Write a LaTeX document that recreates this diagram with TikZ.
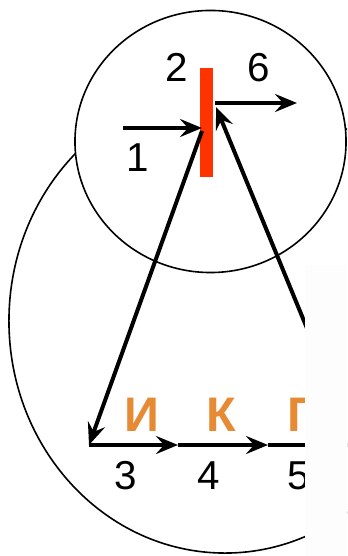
\documentclass[tikz,border=0pt]{standalone}
\usepackage{fontspec}
\setmainfont{Liberation Sans}
\usetikzlibrary{arrows.meta,shapes.geometric}
\definecolor{barred}{HTML}{FF3300}
\definecolor{lettor}{HTML}{E68A33}
\definecolor{coverc}{HTML}{FDFDFD}
\begin{document}
\begin{tikzpicture}[x=0.025cm,y=-0.025cm,
  ring/.style={draw=black,line width=0.04cm,ellipse,inner sep=0pt},
  flow/.style={line width=0.1cm,-{Stealth[length=0.55cm,width=0.45cm,inset=0.2cm]}},
  link/.style={line width=0.1cm},
  num/.style={inner sep=0pt,font=\fontsize{28.7}{30}\selectfont},
  letter/.style={inner sep=0pt,text=lettor,font=\fontsize{34.5}{36}\selectfont\bfseries},
  barbox/.style={fill=barred,inner sep=0pt,minimum width=0.325cm,minimum height=2.725cm}]
\useasboundingbox (0,0) rectangle (347,556);
\clip (0,0) rectangle (347,556);
\node[ring,minimum width=10.8cm,minimum height=11.6cm] (big) at (225,321) {};
\node[ring,fill=white,minimum width=6.775cm,minimum height=6.55cm] (top) at (210.5,141.5) {};
\node[barbox] (bar) at (206.5,122.5) {};
% points
\coordinate (s1) at (123,128);
\coordinate (e1) at (202,128);
\coordinate (o3) at (202,131);
\coordinate (c3) at (89,445);
\coordinate (c4) at (178,445);
\coordinate (c5) at (268,445);
\coordinate (c6) at (355,445);
\coordinate (in6) at (216,107);
\coordinate (s6) at (215,103);
\coordinate (e6) at (297,103);
\draw[flow] (s1) -- (e1);
\draw[flow] (o3) -- (c3);
\draw[flow] (c3) -- (c4);
\draw[flow] (c4) -- (c5);
\draw[link] (c5) -- (c6);
\draw[flow,shorten <=2cm] (c6) -- (in6);
\draw[flow] (s6) -- (e6);
% labels
\node[num] (n1) at (138,157.5) {1};
\node[num] (n2) at (177,67.5) {2};
\node[num] (n6) at (259,68) {6};
\node[num] (n3) at (126,476) {3};
\node[num] (n4) at (209,476) {4};
\node[num] (n5) at (299,476) {5};
\node[letter] (l1) at (142,414.5) {И};
\node[letter] (l2) at (221.5,414.5) {К};
\node[letter] (l3) at (301,414.5) {Г};
% cover
\fill[coverc] (305,265) rectangle (370,570);
\end{tikzpicture}
\end{document}
